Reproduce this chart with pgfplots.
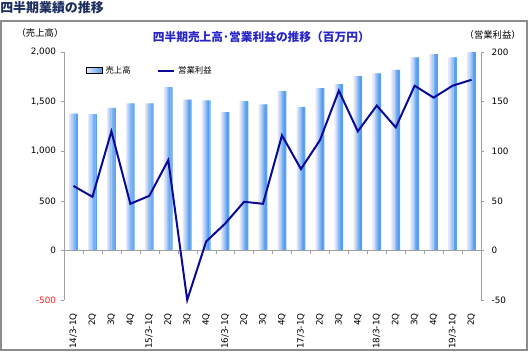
\documentclass[border=0pt]{standalone}
\usepackage{pgfplots}
\pgfplotsset{compat=1.18}
\usepackage{pgfplotstable}
\usepackage{fontspec}
\setmainfont{DejaVu Sans}
\newfontfamily\cjk{Noto Sans CJK JP}
\definecolor{barL}{HTML}{E6E8F6}
\definecolor{barR}{HTML}{4A98F2}
\definecolor{linec}{HTML}{0A0A96}
\definecolor{ttl}{HTML}{1C2D60}
\definecolor{ctitle}{HTML}{2525C8}
\definecolor{axgray}{HTML}{A0A0A0}
\definecolor{frame}{HTML}{8C8C8C}
\definecolor{negred}{HTML}{FF2020}

\pgfplotstableread{
x sales op
0 1380 65
1 1375 54
2 1438 120
3 1482 47
4 1482 55
5 1647 91
6 1520 -50
7 1512 9
8 1395 27
9 1505 49
10 1472 47
11 1606 116
12 1448 82
13 1635 111
14 1676 161
15 1757 120
16 1785 146
17 1821 124
18 1946 166
19 1979 154
20 1946 166
21 2000 172
}\data

\pgfplotsset{slice/.style={ybar, bar width=0.95pt, draw=none, forget plot}}

\begin{document}
\begin{tikzpicture}
\path (0,0) rectangle (397.5pt,-264.75pt);
\draw[frame, line width=1.1pt] (0.75pt,-15.75pt) rectangle (395.25pt,-262.5pt);
\node[anchor=west, font=\cjk\bfseries\fontsize{9.7}{10}\selectfont, text=ttl, inner sep=0] at (0,-6pt) {四半期業績の推移};
\node[font=\cjk\bfseries\fontsize{8.8}{9}\selectfont, text=ctitle, inner sep=0] at (196pt,-28pt) {四半期売上高･営業利益の推移（百万円）};
\node[font=\cjk\fontsize{7}{7}\selectfont, inner sep=0] at (30pt,-24.75pt) {（売上高）};
\node[font=\cjk\fontsize{7}{7}\selectfont, inner sep=0] at (369.5pt,-26pt) {（営業利益）};

\begin{axis}[
  at={(48pt,-225pt)}, anchor=south west,
  scale only axis, width=312.75pt, height=186pt,
  xmin=-0.5, xmax=21.5, ymin=-500, ymax=2000,
  axis y line*=left, axis x line*=bottom,
  x axis line style={draw=none},
  y axis line style={axgray},
  ytick={-500,0,500,1000,1500,2000},
  yticklabels={\textcolor{negred}{-500},0,500,{1,000},{1,500},{2,000}},
  ytick style={axgray},
  tick align=outside,
  major tick length=2.5pt,
  xtick={0,...,21},
  xticklabels={14/3-1Q,2Q,3Q,4Q,15/3-1Q,2Q,3Q,4Q,16/3-1Q,2Q,3Q,4Q,17/3-1Q,2Q,3Q,4Q,18/3-1Q,2Q,3Q,4Q,19/3-1Q,2Q},
  major x tick style={draw=none},
  xticklabel style={rotate=90, anchor=east},
  xticklabel shift=4pt,
  ticklabel style={font=\fontsize{6.6}{7}\selectfont},
  hide obscured y ticks=false,
]
\addplot[slice, bar shift=-2.8pt, fill=barR!0!barL] table[x=x,y=sales]{\data};
\addplot[slice, bar shift=-2.0pt, fill=barR!12!barL] table[x=x,y=sales]{\data};
\addplot[slice, bar shift=-1.2pt, fill=barR!28!barL] table[x=x,y=sales]{\data};
\addplot[slice, bar shift=-0.4pt, fill=barR!45!barL] table[x=x,y=sales]{\data};
\addplot[slice, bar shift=0.4pt, fill=barR!62!barL] table[x=x,y=sales]{\data};
\addplot[slice, bar shift=1.2pt, fill=barR!80!barL] table[x=x,y=sales]{\data};
\addplot[slice, bar shift=2.0pt, fill=barR!95!barL] table[x=x,y=sales]{\data};
\addplot[slice, bar shift=2.8pt, fill=barR!88!barL] table[x=x,y=sales]{\data};
\end{axis}

\begin{axis}[
  at={(48pt,-225pt)}, anchor=south west,
  scale only axis, width=312.75pt, height=186pt,
  xmin=-0.5, xmax=21.5, ymin=-50, ymax=200,
  axis y line*=right, axis x line*=middle,
  x axis line style={axgray},
  y axis line style={axgray},
  ytick={-50,0,50,100,150,200},
  ytick style={axgray},
  xtick={-0.5,0.5,...,21.5},
  xticklabels={},
  xtick style={axgray},
  tick align=outside,
  major tick length=2.5pt,
  ticklabel style={font=\fontsize{6.6}{7}\selectfont},
  /pgf/number format/assume math mode=true,
  yticklabel style={xshift=2pt},
  hide obscured y ticks=false,
  hide obscured x ticks=false,
  clip=false,
  legend style={at={(0.053,0.925)}, anchor=west, draw=none, fill=none,
    legend columns=2, font=\cjk\fontsize{6.3}{7}\selectfont,
    /tikz/every even column/.append style={column sep=18pt},
    inner sep=0pt},
]
\addlegendimage{legend image code/.code={\fill[left color=barL,right color=barR] (0pt,-2.2pt) rectangle (12pt,2.2pt);}}
\addlegendentry{売上高}
\addplot[linec, line width=1.5pt, legend image code/.code={\draw[linec, line width=1.5pt] (0pt,0pt) -- (12pt,0pt);}] table[x=x,y=op]{\data};
\addlegendentry{営業利益}
\end{axis}
\end{tikzpicture}
\end{document}
